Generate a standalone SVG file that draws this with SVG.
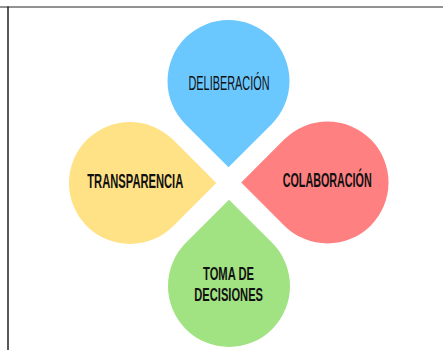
<svg xmlns="http://www.w3.org/2000/svg" xmlns:xlink="http://www.w3.org/1999/xlink" width="443" height="350" viewBox="0 0 443 350">
  <style>
    .lbl { font-family: "Liberation Sans Narrow", "Liberation Sans", Arial, sans-serif; font-weight: bold; fill: #111; font-size: 20px; }
    .thin { font-weight: normal; }
    .two { font-size: 18.5px; }
  </style>
  <defs>
    <path id="drop" d="M0,86.27 L43.13,43.13 A61,61 0 1 0 -43.13,43.13 Z"/>
  </defs>
  <rect width="443" height="350" fill="#ffffff"/>
  <g id="frame">
    <line x1="0" y1="7" x2="443" y2="7" stroke="#6e6e6e" stroke-width="1.6"/>
    <line x1="8" y1="6.5" x2="8" y2="350" stroke="#222" stroke-width="1.5"/>
  </g>
  <g id="connectors"></g>
  <g id="deliberacion">
    <use xlink:href="#drop" transform="translate(228.5,81)" fill="#6BC8FF"/>
    <text class="lbl thin" x="188.5" y="89.5" textLength="81" lengthAdjust="spacingAndGlyphs">DELIBERACIÓN</text>
  </g>
  <g id="colaboracion">
    <use xlink:href="#drop" transform="translate(327.5,182.5) rotate(90)" fill="#FF8080"/>
    <text class="lbl" x="282.7" y="186.5" textLength="89" lengthAdjust="spacingAndGlyphs">COLABORACIÓN</text>
  </g>
  <g id="transparencia">
    <use xlink:href="#drop" transform="translate(130,183) rotate(-90)" fill="#FFE285"/>
    <text class="lbl" x="87.3" y="187.5" textLength="96" lengthAdjust="spacingAndGlyphs">TRANSPARENCIA</text>
  </g>
  <g id="toma-de-decisiones">
    <use xlink:href="#drop" transform="translate(229,286) rotate(180)" fill="#A1E283"/>
    <text class="lbl two" x="203" y="279.8" textLength="51" lengthAdjust="spacingAndGlyphs">TOMA DE</text>
    <text class="lbl two" x="194.3" y="300.6" textLength="68.7" lengthAdjust="spacingAndGlyphs">DECISIONES</text>
  </g>
</svg>
